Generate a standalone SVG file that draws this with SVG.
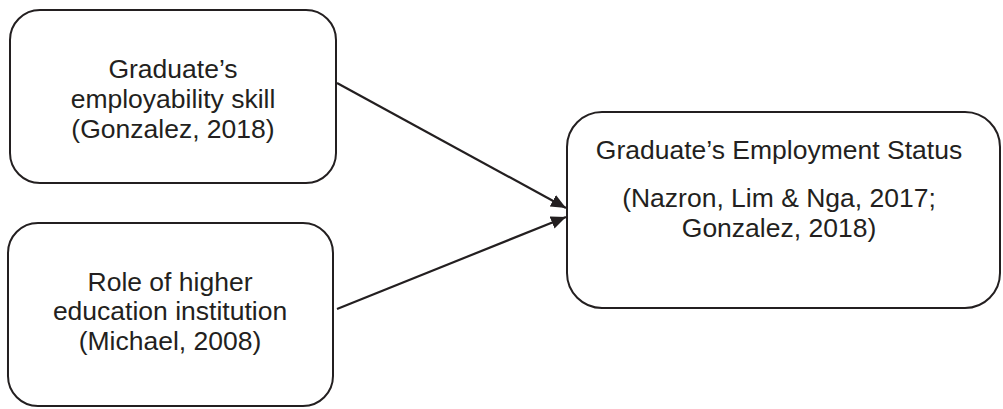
<svg xmlns="http://www.w3.org/2000/svg" width="1003" height="409" viewBox="0 0 1003 409">
  <style>
    .box { fill: #ffffff; stroke: #231f20; stroke-width: 2; }
    .lbl { font-family: "Liberation Sans", Arial, sans-serif; font-size: 26.5px; fill: #231f20; text-anchor: middle; }
    .conn { stroke: #231f20; stroke-width: 2.2; fill: none; }
  </style>
  <defs>
    <marker id="arr" viewBox="0 0 15 13" refX="15" refY="6.5" markerWidth="15" markerHeight="13" markerUnits="userSpaceOnUse" orient="auto">
      <path d="M0,0 L15,6.5 L0,13 Z" fill="#231f20"/>
    </marker>
  </defs>
  <rect width="1003" height="409" fill="#ffffff"/>
  <g id="node-skill">
    <rect class="box" x="10" y="10" width="326" height="173" rx="30" ry="30"/>
    <text class="lbl" x="173" y="78">Graduate’s</text>
    <text class="lbl" x="173" y="108">employability skill</text>
    <text class="lbl" x="173" y="138">(Gonzalez, 2018)</text>
  </g>
  <g id="node-institution">
    <rect class="box" x="8" y="223" width="325" height="183" rx="30" ry="30"/>
    <text class="lbl" x="170" y="291">Role of higher</text>
    <text class="lbl" x="170" y="320">education institution</text>
    <text class="lbl" x="170" y="350">(Michael, 2008)</text>
  </g>
  <g id="node-status">
    <rect class="box" x="567" y="112" width="433" height="196" rx="35" ry="35"/>
    <text class="lbl" x="779" y="159">Graduate’s Employment Status</text>
    <text class="lbl" x="779" y="207">(Nazron, Lim &amp; Nga, 2017;</text>
    <text class="lbl" x="779" y="237">Gonzalez, 2018)</text>
  </g>
  <g id="connectors">
    <line class="conn" x1="337" y1="83" x2="566" y2="208" marker-end="url(#arr)"/>
    <line class="conn" x1="337" y1="309" x2="566" y2="217" marker-end="url(#arr)"/>
  </g>
</svg>
